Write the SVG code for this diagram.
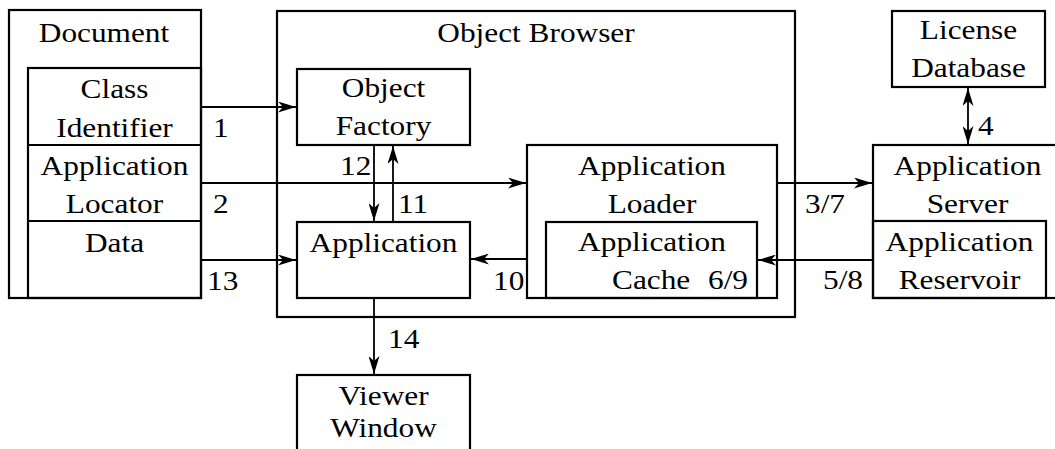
<svg xmlns="http://www.w3.org/2000/svg" width="1055" height="449" viewBox="0 0 1055 449">
<style>
  .box { fill: none; stroke: #000; stroke-width: 2.2; }
  .wire { fill: none; stroke: #000; stroke-width: 1.8; }
  text { font-family: "Liberation Serif", "Times New Roman", serif; font-size: 27px; fill: #000; }
  .c { text-anchor: middle; }
</style>
<defs>
  <marker id="ah" viewBox="0 0 18 11" refX="18" refY="5.5" markerWidth="18" markerHeight="11" markerUnits="userSpaceOnUse" orient="auto-start-reverse">
    <path d="M0,0 L18,5.5 L0,11 L5,5.5 Z" fill="#000"/>
  </marker>
</defs>
<rect width="1055" height="449" fill="#fff"/>

<g id="document">
  <rect class="box" x="9" y="10" width="192" height="288"/>
  <rect class="box" x="28" y="68" width="173" height="230"/>
  <line class="box" x1="28" y1="145" x2="201" y2="145"/>
  <line class="box" x1="28" y1="221" x2="201" y2="221"/>
  <text class="c" transform="translate(104,42) scale(1.16,1)">Document</text>
  <text class="c" transform="translate(114.5,98) scale(1.16,1)">Class</text>
  <text class="c" transform="translate(114.5,137) scale(1.16,1)">Identifier</text>
  <text class="c" transform="translate(114.5,175) scale(1.16,1)">Application</text>
  <text class="c" transform="translate(114.5,213) scale(1.16,1)">Locator</text>
  <text class="c" transform="translate(114.5,252) scale(1.16,1)">Data</text>
</g>

<g id="object-browser">
  <rect class="box" x="277" y="11" width="518" height="306"/>
  <text class="c" transform="translate(536,42) scale(1.16,1)">Object Browser</text>
</g>

<g id="object-factory">
  <rect class="box" x="297" y="69" width="173" height="76"/>
  <text class="c" transform="translate(383.5,97) scale(1.16,1)">Object</text>
  <text class="c" transform="translate(383.5,135) scale(1.16,1)">Factory</text>
</g>

<g id="application">
  <rect class="box" x="297" y="222" width="173" height="76"/>
  <text class="c" transform="translate(383.5,252) scale(1.16,1)">Application</text>
</g>

<g id="application-loader">
  <rect class="box" x="527" y="145" width="250" height="153"/>
  <text class="c" transform="translate(652,175) scale(1.16,1)">Application</text>
  <text class="c" transform="translate(652,213) scale(1.16,1)">Loader</text>
</g>

<g id="application-cache">
  <rect class="box" x="546" y="222" width="211" height="76"/>
  <text class="c" transform="translate(652,251) scale(1.16,1)">Application</text>
  <text transform="translate(612,289) scale(1.16,1)">Cache</text>
  <text transform="translate(708,289) scale(1.16,1)">6/9</text>
</g>

<g id="license-database">
  <rect class="box" x="892" y="11" width="153" height="76"/>
  <text class="c" transform="translate(968.5,39) scale(1.16,1)">License</text>
  <text class="c" transform="translate(968.5,77) scale(1.16,1)">Database</text>
</g>

<g id="application-server">
  <rect class="box" x="873" y="145" width="200" height="153"/>
  <text class="c" transform="translate(967.5,175) scale(1.16,1)">Application</text>
  <text class="c" transform="translate(967.5,213) scale(1.16,1)">Server</text>
</g>

<g id="application-reservoir">
  <rect class="box" x="873" y="221" width="173" height="77"/>
  <text class="c" transform="translate(959.5,251) scale(1.16,1)">Application</text>
  <text class="c" transform="translate(959.5,289) scale(1.16,1)">Reservoir</text>
</g>

<g id="viewer-window">
  <rect class="box" x="297" y="375" width="173" height="90"/>
  <text class="c" transform="translate(383.5,405) scale(1.16,1)">Viewer</text>
  <text class="c" transform="translate(383.5,437) scale(1.16,1)">Window</text>
</g>

<g id="connectors">
  <line class="wire" x1="201" y1="107" x2="296" y2="107" marker-end="url(#ah)"/>
  <line class="wire" x1="201" y1="183" x2="526" y2="183" marker-end="url(#ah)"/>
  <line class="wire" x1="201" y1="260" x2="296" y2="260" marker-end="url(#ah)"/>
  <line class="wire" x1="374" y1="145" x2="374" y2="221" marker-end="url(#ah)"/>
  <line class="wire" x1="393" y1="222" x2="393" y2="146" marker-end="url(#ah)"/>
  <line class="wire" x1="527" y1="259" x2="471" y2="259" marker-end="url(#ah)"/>
  <line class="wire" x1="777" y1="183" x2="872" y2="183" marker-end="url(#ah)"/>
  <line class="wire" x1="873" y1="260" x2="758" y2="260" marker-end="url(#ah)"/>
  <line class="wire" x1="968" y1="88" x2="968" y2="144" marker-start="url(#ah)" marker-end="url(#ah)"/>
  <line class="wire" x1="374" y1="298" x2="374" y2="374" marker-end="url(#ah)"/>
  <text transform="translate(213,137) scale(1.16,1)">1</text>
  <text transform="translate(213,213) scale(1.16,1)">2</text>
  <text transform="translate(207,290) scale(1.16,1)">13</text>
  <text transform="translate(340,175) scale(1.16,1)">12</text>
  <text transform="translate(398,213) scale(1.16,1)">11</text>
  <text transform="translate(493,290) scale(1.16,1)">10</text>
  <text transform="translate(805,213) scale(1.16,1)">3/7</text>
  <text transform="translate(823,289) scale(1.16,1)">5/8</text>
  <text transform="translate(978,135) scale(1.16,1)">4</text>
  <text transform="translate(388,348) scale(1.16,1)">14</text>
</g>
</svg>
